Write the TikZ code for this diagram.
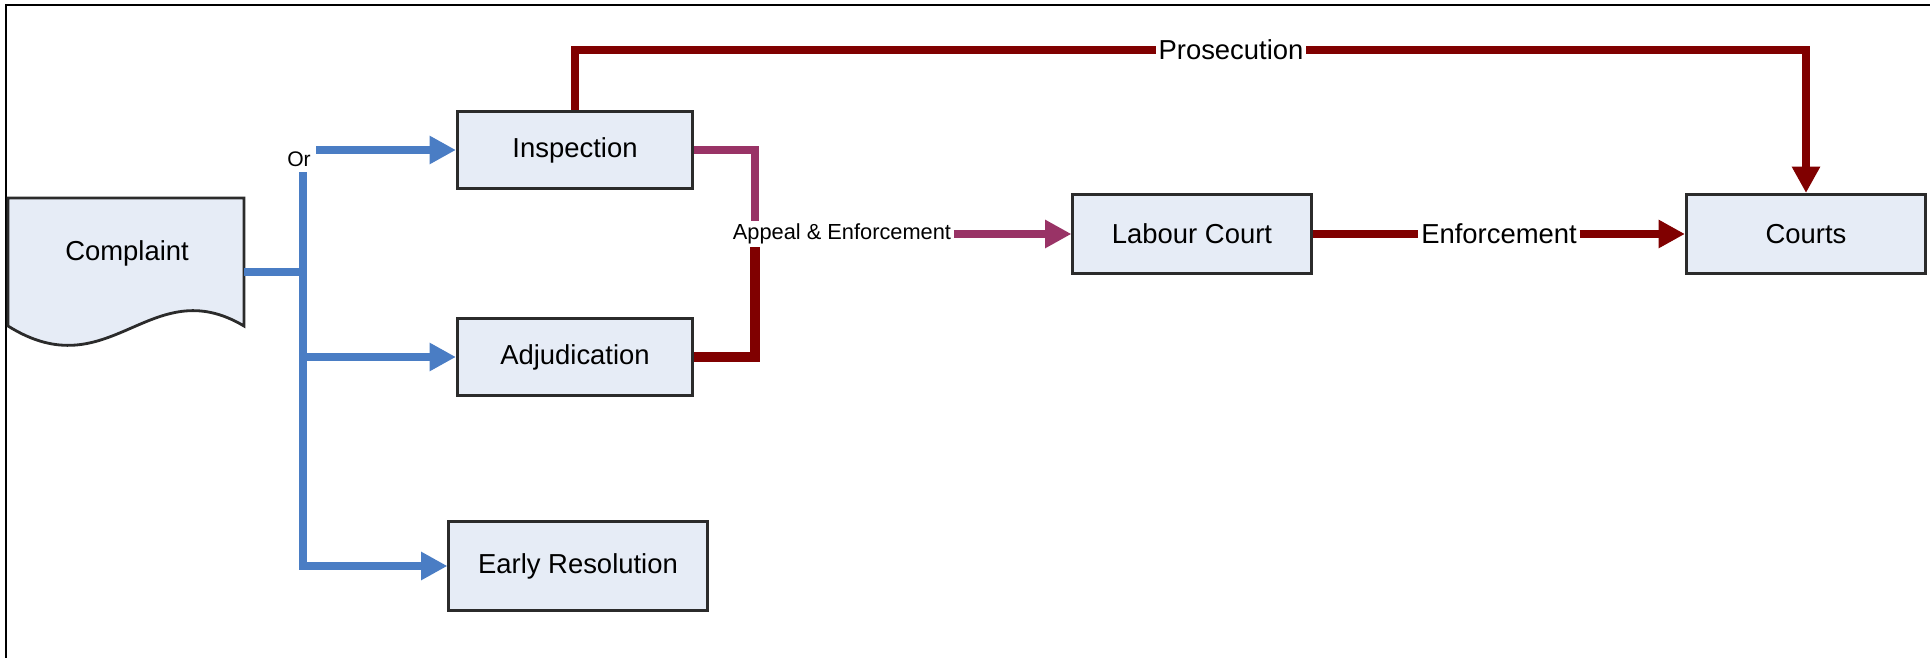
\documentclass[tikz,border=0pt]{standalone}
\usepackage{fontspec}
\setmainfont{Liberation Sans}
\usepackage{tikz}
\usetikzlibrary{arrows.meta,positioning}
\definecolor{cBranch}{HTML}{4A7DC4}
\definecolor{cProsec}{HTML}{800000}
\definecolor{cAppeal}{HTML}{993366}
\definecolor{cBox}{HTML}{E6ECF6}
\definecolor{cEdge}{HTML}{2B2B2B}
\tikzset{
  stage/.style ={draw=cEdge, line width=0.85pt, fill=cBox, align=center,
                 font=\fontsize{7.8}{9}\selectfont, inner sep=2pt,
                 minimum width=2.35cm, minimum height=0.77cm},
  lbl/.style   ={fill=white, inner sep=0.6pt, font=\fontsize{7.8}{9}\selectfont},
  slbl/.style  ={fill=white, inner sep=0.6pt, font=\fontsize{6.2}{7}\selectfont},
  branch/.style={line width=2.3pt, draw=cBranch},
  barrow/.style={branch, -{Triangle[length=7.5pt,width=7.6pt]}},
  prosec/.style={line width=2.5pt, draw=cProsec},
  parrow/.style={prosec, -{Triangle[length=7.5pt,width=7.6pt]}},
  appeal/.style={line width=2.2pt, draw=cAppeal},
  aarrow/.style={appeal, -{Triangle[length=7.5pt,width=7.6pt]}},
}
\begin{document}
\begin{tikzpicture}[x=0.01cm, y=-0.01cm]
        \useasboundingbox (0,0) rectangle (1930,658);
        \draw[line width=0.6pt] (6,658) -- (6,5) -- (1930,5);
        % complaint document
        \draw[draw=cEdge, line width=0.8pt, fill=cBox] (8,198) -- (244,198) -- (244,326)
              .. controls (150,270) and (110,390) .. (8,326) -- cycle;
        \node[font=\fontsize{7.8}{9}\selectfont] (complaint) at (127,253) {Complaint};
        \coordinate (cstub) at (244,272);
        % stages
        \node[stage] (insp) at (575,150) {Inspection};
        \node[stage] (adj) at (575,357) {Adjudication};
        \node[stage, minimum width=2.58cm, minimum height=0.89cm] (early) at (578,566) {Early Resolution};
        \node[stage, minimum width=2.38cm, minimum height=0.79cm] (labour) at (1192,234) {Labour Court};
        \node[stage, minimum width=2.39cm, minimum height=0.79cm] (courts) at (1806,234) {Courts};
        % or-branches
        \coordinate (bustop) at (303,150);
        \draw[branch] (cstub) -- (cstub -| bustop);
        \draw[barrow] (bustop) |- (early.west);
        \draw[barrow] (bustop) -- (insp.west);
        \draw[barrow] (adj.west -| bustop) -- (adj.west);
        \node[slbl, inner sep=1.5pt, font=\fontsize{6}{7}\selectfont] (or) at (299,159) {Or};
        % prosecution
        \node[lbl] (pros) at (1231,50) {Prosecution};
        \draw[prosec] (insp.north) |- (pros.west);
        \draw[parrow] (pros.east) -| (courts.north);
        % appeal
        \node[slbl] (app) at (842,234) {Appeal \& Enforcement};
        \coordinate (ajoin) at (755,234);
        \draw[appeal] (insp.east) -| (app.north -| ajoin);
        \draw[prosec, line width=2.8pt] (adj.east) -| (app.south -| ajoin);
        \draw[aarrow] (app.east) -- (labour.west);
        % enforcement
        \node[lbl] (enf) at (1499,234) {Enforcement};
        \draw[prosec] (labour.east) -- (enf.west);
        \draw[parrow] (enf.east) -- (courts.west);
      \end{tikzpicture}
\end{document}
